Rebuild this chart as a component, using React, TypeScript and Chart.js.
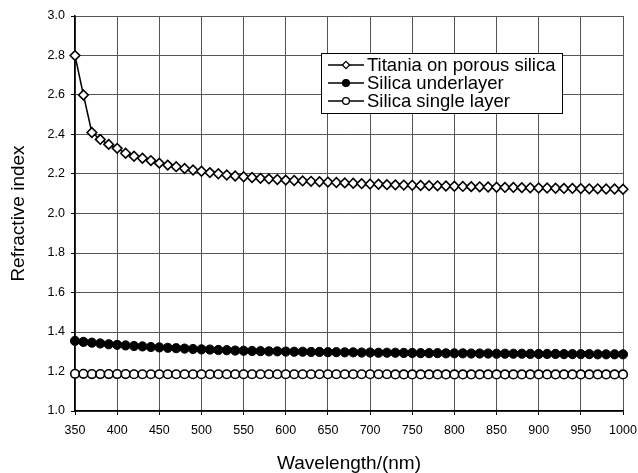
import { useEffect, useRef } from 'react';
import { Chart, registerables } from 'chart.js';

Chart.register(...registerables);

const wavelengths = [
  350, 360, 370, 380, 390, 400, 410, 420, 430, 440, 450, 460, 470, 480, 490,
  500, 510, 520, 530, 540, 550, 560, 570, 580, 590, 600, 610, 620, 630, 640,
  650, 660, 670, 680, 690, 700, 710, 720, 730, 740, 750, 760, 770, 780, 790,
  800, 810, 820, 830, 840, 850, 860, 870, 880, 890, 900, 910, 920, 930, 940,
  950, 960, 970, 980, 990, 1000,
];

const titania = [
  2.8, 2.6, 2.41, 2.375, 2.35, 2.33, 2.305, 2.29, 2.28, 2.268, 2.255, 2.245, 2.237, 2.228, 2.22,
  2.214, 2.207, 2.201, 2.195, 2.19, 2.186, 2.182, 2.178, 2.175, 2.172, 2.169, 2.167, 2.165, 2.163, 2.161,
  2.159, 2.157, 2.155, 2.153, 2.151, 2.149, 2.148, 2.146, 2.145, 2.144, 2.143, 2.142, 2.141, 2.14, 2.139,
  2.138, 2.137, 2.136, 2.135, 2.134, 2.133, 2.132, 2.132, 2.131, 2.13, 2.129, 2.129, 2.128, 2.127, 2.127,
  2.126, 2.125, 2.125, 2.124, 2.124, 2.123,
];

const underlayer = [
  1.355, 1.35, 1.346, 1.342, 1.338, 1.335, 1.332, 1.329, 1.327, 1.324, 1.322, 1.32, 1.318, 1.316, 1.314,
  1.312, 1.311, 1.309, 1.308, 1.306, 1.305, 1.304, 1.303, 1.302, 1.302, 1.301, 1.3, 1.3, 1.299, 1.299,
  1.298, 1.298, 1.297, 1.297, 1.296, 1.296, 1.295, 1.295, 1.295, 1.294, 1.294, 1.293, 1.293, 1.293, 1.292,
  1.292, 1.292, 1.291, 1.291, 1.291, 1.29, 1.29, 1.29, 1.29, 1.289, 1.289, 1.289, 1.289, 1.288, 1.288,
  1.288, 1.288, 1.287, 1.287, 1.287, 1.287,
];

const singleLayer = [
  1.188, 1.188, 1.187, 1.187, 1.187, 1.187, 1.187, 1.186, 1.186, 1.186, 1.186, 1.186, 1.186, 1.186, 1.186,
  1.186, 1.186, 1.186, 1.186, 1.186, 1.186, 1.186, 1.186, 1.186, 1.186, 1.186, 1.186, 1.186, 1.186, 1.186,
  1.186, 1.186, 1.186, 1.186, 1.186, 1.186, 1.186, 1.186, 1.185, 1.185, 1.185, 1.185, 1.185, 1.185, 1.185,
  1.185, 1.185, 1.185, 1.185, 1.185, 1.185, 1.185, 1.185, 1.185, 1.185, 1.185, 1.185, 1.185, 1.185, 1.185,
  1.185, 1.185, 1.185, 1.185, 1.185, 1.185,
];

const seriesNames = ['Titania on porous silica', 'Silica underlayer', 'Silica single layer'];
const xTitle = 'Wavelength/(nm)';
const yTitle = 'Refractive index';

const FONT = '"Liberation Sans", Arial, Helvetica, sans-serif';

function drawMarker(ctx: CanvasRenderingContext2D, style: string, x: number, y: number, r: number, fill: string) {
  ctx.beginPath();
  if (style === 'rectRot') {
    ctx.moveTo(x, y - r);
    ctx.lineTo(x + r, y);
    ctx.lineTo(x, y + r);
    ctx.lineTo(x - r, y);
    ctx.closePath();
  } else {
    ctx.arc(x, y, r, 0, Math.PI * 2);
  }
  ctx.fillStyle = fill;
  ctx.fill();
  ctx.lineWidth = 1.3;
  ctx.strokeStyle = '#000';
  ctx.stroke();
}

const boxLegend = {
  id: 'boxLegend',
  afterDraw(chart: any) {
    const ctx: CanvasRenderingContext2D = chart.ctx;
    const x0 = 321;
    const y0 = 53;
    const w = 241;
    const h = 60;
    ctx.save();
    ctx.fillStyle = '#fff';
    ctx.fillRect(x0, y0, w, h);
    ctx.strokeStyle = '#000';
    ctx.lineWidth = 1;
    ctx.strokeRect(x0 + 0.5, y0 + 0.5, w, h);
    chart.data.datasets.forEach((ds: any, i: number) => {
      const cy = 65 + i * 18;
      ctx.beginPath();
      ctx.moveTo(328, cy);
      ctx.lineTo(364, cy);
      ctx.strokeStyle = '#000';
      ctx.lineWidth = 1.5;
      ctx.stroke();
      drawMarker(ctx, ds.pointStyle, 346, cy, ds.pointStyle === 'rectRot' ? 3.6 : 3.4, ds.pointBackgroundColor);
      ctx.fillStyle = '#000';
      ctx.font = `18.5px ${FONT}`;
      ctx.textBaseline = 'middle';
      ctx.textAlign = 'left';
      ctx.fillText(ds.label, 367, cy + 1);
    });
    ctx.restore();
  },
};

export default function App() {
  const ref = useRef<HTMLCanvasElement | null>(null);

  useEffect(() => {
    document.body.style.margin = '0';
    const canvas = ref.current;
    if (!canvas) return;
    const mk = (vals: number[]) => wavelengths.map((x, i) => ({ x, y: vals[i] }));
    const chart = new Chart(canvas, {
      type: 'line',
      data: {
        datasets: [
          {
            label: seriesNames[0],
            data: mk(titania),
            borderColor: '#000',
            borderWidth: 1.5,
            pointStyle: 'rectRot',
            pointRadius: 4.8,
            pointBackgroundColor: '#fff',
            pointBorderColor: '#000',
            pointBorderWidth: 1.6,
            tension: 0,
            clip: false,
          },
          {
            label: seriesNames[1],
            data: mk(underlayer),
            borderColor: '#000',
            borderWidth: 1.5,
            pointStyle: 'circle',
            pointRadius: 4.6,
            pointBackgroundColor: '#000',
            pointBorderColor: '#000',
            pointBorderWidth: 1,
            tension: 0,
            clip: false,
          },
          {
            label: seriesNames[2],
            data: mk(singleLayer),
            borderColor: '#000',
            borderWidth: 1.5,
            pointStyle: 'circle',
            pointRadius: 4.3,
            pointBackgroundColor: '#fff',
            pointBorderColor: '#000',
            pointBorderWidth: 1.6,
            tension: 0,
            clip: false,
          },
        ] as any,
      },
      options: {
        animation: false,
        responsive: false,
        devicePixelRatio: 1,
        layout: { padding: { top: 16, right: 15, left: 0, bottom: 0 } },
        plugins: { legend: { display: false }, tooltip: { enabled: false } },
        scales: {
          x: {
            type: 'linear',
            min: 350,
            max: 1000,
            ticks: {
              stepSize: 50,
              color: '#000',
              font: { family: FONT, size: 12.5 },
              padding: 8,
              maxRotation: 0,
              callback: (v: any) => String(v),
            },
            grid: { color: '#555', lineWidth: 1, tickLength: 4, tickColor: '#000' },
            border: { color: '#000', width: 1.5 },
            title: { display: true, text: xTitle, color: '#000', font: { family: FONT, size: 19, lineHeight: 1 }, padding: 0 },
            afterFit: (s: any) => {
              s.height = 62;
              s.paddingLeft = 0;
              s.paddingRight = 0;
            },
          },
          y: {
            type: 'linear',
            min: 1,
            max: 3,
            ticks: {
              stepSize: 0.2,
              color: '#000',
              font: { family: FONT, size: 12.5 },
              padding: 6,
              callback: (v: any) => Number(v).toFixed(1),
            },
            grid: { color: '#555', lineWidth: 1, tickLength: 4, tickColor: '#000' },
            border: { color: '#000', width: 1.5 },
            title: { display: true, text: yTitle, color: '#000', font: { family: FONT, size: 19, lineHeight: 1 }, padding: { top: 9, bottom: 0 } },
            afterFit: (s: any) => {
              s.width = 75;
              s.paddingTop = 0;
              s.paddingBottom = 0;
            },
          },
        },
      } as any,
      plugins: [boxLegend],
    });
    return () => chart.destroy();
  }, []);

  return <canvas ref={ref} width={638} height={473} style={{ display: 'block' }} />;
}
